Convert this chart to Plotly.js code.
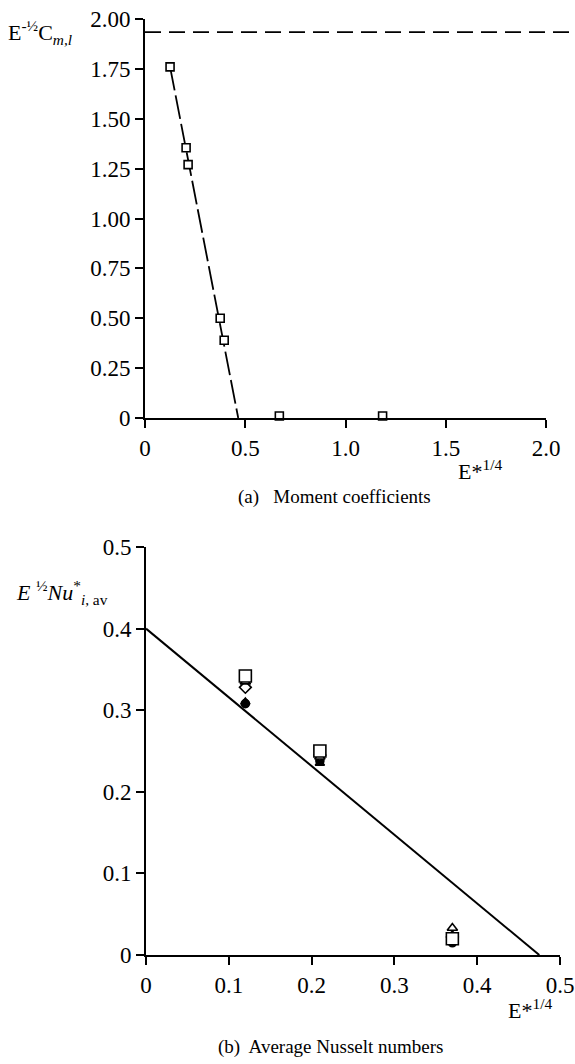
<!DOCTYPE html>
<html><head><meta charset="utf-8">
<script src="https://cdn.plot.ly/plotly-3.0.1.min.js"></script>
<style>html,body{margin:0;padding:0;background:#fff}</style>
</head><body><div id="chart" style="width:575px;height:1064px"></div>
<script>
// (a) Moment coefficients
const momentX = [0.125, 0.205, 0.215, 0.375, 0.395, 0.67, 1.185];
const momentY = [1.76, 1.355, 1.27, 0.50, 0.39, 0.01, 0.01];
const momentFitX = [0.125, 0.465];
const momentFitY = [1.76, 0];
const momentLimit = 1.934;
const momentXTicks = [0, 0.5, 1.0, 1.5, 2.0];
const momentXTickText = ["0", "0.5", "1.0", "1.5", "2.0"];
const momentYTicks = [0, 0.25, 0.5, 0.75, 1.0, 1.25, 1.5, 1.75, 2.0];
const momentYTickText = ["0", "0.25", "0.50", "0.75", "1.00", "1.25", "1.50", "1.75", "2.00"];

// (b) Average Nusselt numbers
const nuX = [0.12, 0.21, 0.37];
const nuOpenSquare = [0.342, 0.250, 0.020];
const nuOpenTriangle = [0.335, 0.243, 0.033];
const nuOpenDiamond = [0.328, 0.245, 0.022];
const nuFilledCircle = [0.308, 0.238, 0.015];
const nuFilledTriangle = [0.310, 0.235, 0.018];
const nuFitX = [0, 0.475];
const nuFitY = [0.4, 0];
const nuTicks = [0, 0.1, 0.2, 0.3, 0.4, 0.5];
const nuTickText = ["0", "0.1", "0.2", "0.3", "0.4", "0.5"];

const W = 575, H = 1064;
const fx = p => p / W;
const fy = p => 1 - p / H;
const FAM = "Liberation Serif";
const TICK = {family: FAM, size: 23, color: "#000"};
const FONT = {family: FAM, size: 22, color: "#000"};
const CAP = {family: FAM, size: 19, color: "#000"};

function mk(x, y, xa, ya, symbol, size, filled) {
  return {x, y, xaxis: xa, yaxis: ya, type: "scatter", mode: "markers", cliponaxis: false,
    marker: {symbol, size, color: filled ? "#000" : "#fff", line: {color: "#000", width: 1.6}},
    showlegend: false, hoverinfo: "skip"};
}

const data = [
  {x: momentFitX, y: momentFitY, xaxis: "x", yaxis: "y", mode: "lines", cliponaxis: false,
   line: {color: "#000", width: 1.8, dash: "24px,5px"}, showlegend: false},
  mk(momentX, momentY, "x", "y", "square", 8, false),
  {x: nuFitX, y: nuFitY, xaxis: "x2", yaxis: "y2", mode: "lines", cliponaxis: false,
   line: {color: "#000", width: 2}, showlegend: false},
  mk(nuX, nuFilledCircle, "x2", "y2", "circle", 8, true),
  mk(nuX, nuFilledTriangle, "x2", "y2", "triangle-up", 8, true),
  mk(nuX, nuOpenDiamond, "x2", "y2", "diamond", 9, false),
  mk(nuX, nuOpenTriangle, "x2", "y2", "triangle-up", 9, false),
  mk(nuX, nuOpenSquare, "x2", "y2", "square", 12, false)
];

const axBase = {showgrid: false, zeroline: false, showline: true, linecolor: "#000", linewidth: 2,
  ticks: "outside", ticklen: 8, tickwidth: 2, tickcolor: "#000", tickfont: TICK, fixedrange: true};

const layout = {
  width: W, height: H, margin: {l: 0, r: 0, t: 0, b: 0},
  paper_bgcolor: "#fff", plot_bgcolor: "rgba(0,0,0,0)", font: FONT, showlegend: false,
  xaxis: Object.assign({}, axBase, {domain: [fx(145), fx(546)], range: [0, 2.0], anchor: "y",
    tickvals: momentXTicks, ticktext: momentXTickText}),
  yaxis: Object.assign({}, axBase, {domain: [fy(418), fy(19)], range: [0, 2.0], anchor: "x",
    tickvals: momentYTicks, ticktext: momentYTickText}),
  xaxis2: Object.assign({}, axBase, {domain: [fx(146), fx(560)], range: [0, 0.5], anchor: "y2",
    tickvals: nuTicks, ticktext: nuTickText}),
  yaxis2: Object.assign({}, axBase, {domain: [fy(955), fy(547)], range: [0, 0.5], anchor: "x2",
    tickvals: nuTicks, ticktext: nuTickText}),
  shapes: [
    {type: "line", xref: "paper", yref: "y", x0: fx(145), x1: fx(575), y0: momentLimit, y1: momentLimit,
     line: {color: "#000", width: 1.8, dash: "16px,8px"}}
  ],
  annotations: [
    {xref: "paper", yref: "paper", x: fx(6), y: fy(33), xanchor: "left", yanchor: "middle", showarrow: false,
     text: "E<sup>-½</sup>C<sub><i>m,l</i></sub>", font: FONT},
    {xref: "paper", yref: "paper", x: fx(480), y: fy(470), xanchor: "center", yanchor: "middle", showarrow: false,
     text: "E*<sup>1/4</sup>", font: FONT},
    {xref: "paper", yref: "paper", x: fx(334), y: fy(497), xanchor: "center", yanchor: "middle", showarrow: false,
     text: "(a)   Moment coefficients", font: CAP},
    {xref: "paper", yref: "paper", x: fx(14), y: fy(592), xanchor: "left", yanchor: "middle", showarrow: false,
     text: "<i>E</i> <sup>½</sup><i>Nu</i><sup>*</sup><sub><i>i</i>, av</sub>", font: FONT},
    {xref: "paper", yref: "paper", x: fx(530), y: fy(1009), xanchor: "center", yanchor: "middle", showarrow: false,
     text: "E*<sup>1/4</sup>", font: FONT},
    {xref: "paper", yref: "paper", x: fx(330), y: fy(1047), xanchor: "center", yanchor: "middle", showarrow: false,
     text: "(b)  Average Nusselt numbers", font: CAP}
  ]
};

Plotly.newPlot("chart", data, layout, {displayModeBar: false});
</script></body></html>
